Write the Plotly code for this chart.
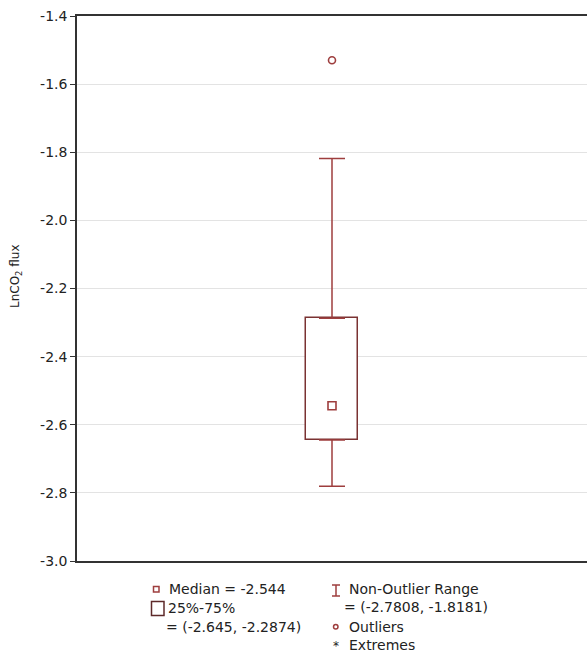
import plotly.graph_objects as go

# ---- data ----
q1 = [-2.645]
median = [-2.544]
q3 = [-2.2874]
lower_fence = [-2.7808]
upper_fence = [-1.8181]
outliers = [-1.53]
group_x = [0]

tick_vals = [-3.0, -2.8, -2.6, -2.4, -2.2, -2.0, -1.8, -1.6, -1.4]
tick_labels = ["-3.0", "-2.8", "-2.6", "-2.4", "-2.2", "-2.0", "-1.8", "-1.6", "-1.4"]

legend_median = "Median = -2.544"
legend_box = ["25%-75%", "= (-2.645, -2.2874)"]
legend_range = ["Non-Outlier Range", "= (-2.7808, -1.8181)"]
legend_outliers = "Outliers"
legend_extremes = "Extremes"
y_title = "LnCO<sub>2</sub> flux"

# ---- layout geometry (page body margin removed in post_script) ----
W, H = 587, 653
ML, MR, MT = 77, 0, 16
MB = H - 561
PW = W - ML - MR
PH = H - MT - MB

box_col = "#7a3232"
whisk_col = "#9e3e3e"
font_fam = "DejaVu Sans"
txt_col = "#222222"


def px(xp):
    return (xp - ML) / PW


def py(yp):
    return (H - MB - yp) / PH


fig = go.Figure()

# box (25%-75%)
fig.add_trace(go.Bar(
    x=group_x, y=[q3[0] - q1[0]], base=q1, width=0.102,
    marker=dict(color="white", line=dict(color=box_col, width=1.5)),
    showlegend=False, hoverinfo="skip"))

# upper whisker
fig.add_trace(go.Scatter(
    x=group_x, y=q3, mode="markers", marker=dict(size=1, opacity=0),
    error_y=dict(type="data", symmetric=False,
                 array=[upper_fence[0] - q3[0]], arrayminus=[0],
                 color=whisk_col, thickness=1.5, width=13),
    showlegend=False, hoverinfo="skip"))

# lower whisker
fig.add_trace(go.Scatter(
    x=group_x, y=q1, mode="markers", marker=dict(size=1, opacity=0),
    error_y=dict(type="data", symmetric=False,
                 array=[0], arrayminus=[q1[0] - lower_fence[0]],
                 color=whisk_col, thickness=1.5, width=13),
    showlegend=False, hoverinfo="skip"))

# median
fig.add_trace(go.Scatter(
    x=group_x, y=median, mode="markers",
    marker=dict(symbol="square-open", size=8, color=whisk_col, line=dict(width=1.6)),
    showlegend=False))

# outliers
fig.add_trace(go.Scatter(
    x=group_x * len(outliers), y=outliers, mode="markers",
    marker=dict(symbol="circle-open", size=7, color=whisk_col, line=dict(width=1.6)),
    showlegend=False))

fig.update_layout(
    width=W, height=H,
    margin=dict(l=ML, r=MR, t=MT, b=MB),
    paper_bgcolor="white", plot_bgcolor="white",
    font=dict(family=font_fam, size=14, color=txt_col),
    xaxis=dict(range=[-0.5, 0.5], showticklabels=False, ticks="",
               showgrid=False, zeroline=False,
               showline=True, linecolor="#333333", linewidth=2, mirror=True),
    yaxis=dict(range=[-3.0, -1.4], tickvals=tick_vals, ticktext=tick_labels,
               ticks="outside", ticklen=5, tickwidth=1, tickcolor="#333333",
               showgrid=True, gridcolor="#e3e3e3", gridwidth=1,
               zeroline=False, showline=True, linecolor="#333333",
               linewidth=1.5, mirror=False, ticklabeloverflow="allow",
               tickfont=dict(family=font_fam, size=14, color=txt_col)),
    bargap=0,
)

annotations = []
# y title
annotations.append(dict(text=y_title, textangle=-90, xref="paper", yref="paper",
                        x=px(16), y=py(276), xanchor="center", yanchor="middle",
                        showarrow=False, font=dict(size=12, family=font_fam, color=txt_col)))


def add_text(t, xp, yp):
    annotations.append(dict(text=t, xref="paper", yref="paper", x=px(xp), y=py(yp),
                            xanchor="left", yanchor="middle", showarrow=False,
                            font=dict(size=14, family=font_fam, color=txt_col)))


add_text(legend_median, 167, 589)
add_text(legend_box[0], 166, 608)
add_text(legend_box[1], 164, 627)
add_text(legend_range[0], 347, 589)
add_text(legend_range[1], 342, 607)
add_text(legend_outliers, 347, 627)
add_text(legend_extremes, 347, 645)
annotations.append(dict(text="*", xref="paper", yref="paper", x=px(336), y=py(646),
                        xanchor="center", yanchor="middle", showarrow=False,
                        font=dict(size=12, family=font_fam, color=txt_col)))
fig.update_layout(annotations=annotations)

shapes = []
# legend glyphs
shapes.append(dict(type="rect", xref="paper", yref="paper",
                   x0=px(153.5), x1=px(159), y0=py(586.5), y1=py(592),
                   line=dict(color=whisk_col, width=1.5)))
shapes.append(dict(type="rect", xref="paper", yref="paper",
                   x0=px(151.5), x1=px(164), y0=py(601.5), y1=py(615.5),
                   line=dict(color="#5e2a2a", width=1.5)))
shapes.append(dict(type="line", xref="paper", yref="paper",
                   x0=px(336), x1=px(336), y0=py(585), y1=py(596),
                   line=dict(color=whisk_col, width=1.5)))
shapes.append(dict(type="line", xref="paper", yref="paper",
                   x0=px(332), x1=px(340), y0=py(585), y1=py(585),
                   line=dict(color=whisk_col, width=1.5)))
shapes.append(dict(type="line", xref="paper", yref="paper",
                   x0=px(332), x1=px(340), y0=py(596), y1=py(596),
                   line=dict(color=whisk_col, width=1.5)))
shapes.append(dict(type="circle", xref="paper", yref="paper",
                   x0=px(333.5), x1=px(338), y0=py(624.5), y1=py(629),
                   line=dict(color=whisk_col, width=1.5)))
fig.update_layout(shapes=shapes)

fig.write_html("out.html",
               config={"displayModeBar": False},
               post_script="document.body.style.margin='0';"
                           "document.body.style.overflow='hidden';")
